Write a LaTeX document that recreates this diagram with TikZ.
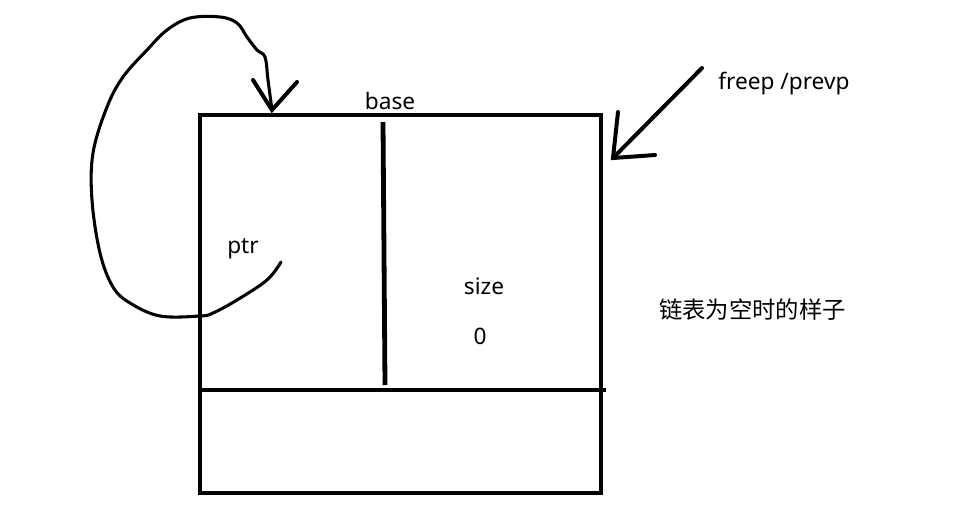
\documentclass[tikz,border=0pt]{standalone}
\usepackage{fontspec}
\setmainfont{Noto Sans}
\newfontfamily\cjk{Noto Sans CJK SC}
\begin{document}
\begin{tikzpicture}[x=0.75pt,y=-0.75pt,
  boxline/.style={line width=3.6pt},
  pen/.style={line width=2.3pt, line cap=round, line join=round},
  headpen/.style={line width=3pt, line cap=round},
  lbl/.style={inner sep=0pt, font=\fontsize{17}{20}\selectfont}]
\useasboundingbox (0,0) rectangle (968,508);
% box
\draw[boxline] (200,115) rectangle (601,493);
\draw[boxline] (200,390) -- (606,390);
\draw[boxline] (383,122) -- (385,385);
% texts
\node[lbl] (base) at (390,101) {base};
\node[lbl] (ptr) at (243,249) {ptr};
\node[lbl] (size) at (484,286) {size};
\node[lbl] (zero) at (480,336) {0};
\node[lbl, anchor=west] (freep) at (718,84) {freep /prevp};
\node[lbl, anchor=west, font=\cjk\fontsize{17.5}{20}\selectfont] (note) at (659,310) {链表为空时的样子};
% loop arrow
\coordinate (ls) at (281,262);
\coordinate (lt) at (272,110);
\draw[pen] plot[smooth, tension=0.6] coordinates {(ls) (267,280) (237,300) (213,313) (200,316) (160,316) (130,303) (113,287) (100,253) (92,200) (93,153) (107,107) (123,77) (147,50) (167,30) (190,18) (220,17) (237,23) (247,37) (257,50) (265,57) (268,80) (lt)};
\draw[headpen] (253,80) -- (lt) -- (297,82);
% freep arrow
\coordinate (fs) at (702,68);
\coordinate (ft) at (613,158);
\draw[headpen] (fs) -- (ft);
\draw[headpen] (618,112) -- (ft) -- (655,155);
\end{tikzpicture}
\end{document}
